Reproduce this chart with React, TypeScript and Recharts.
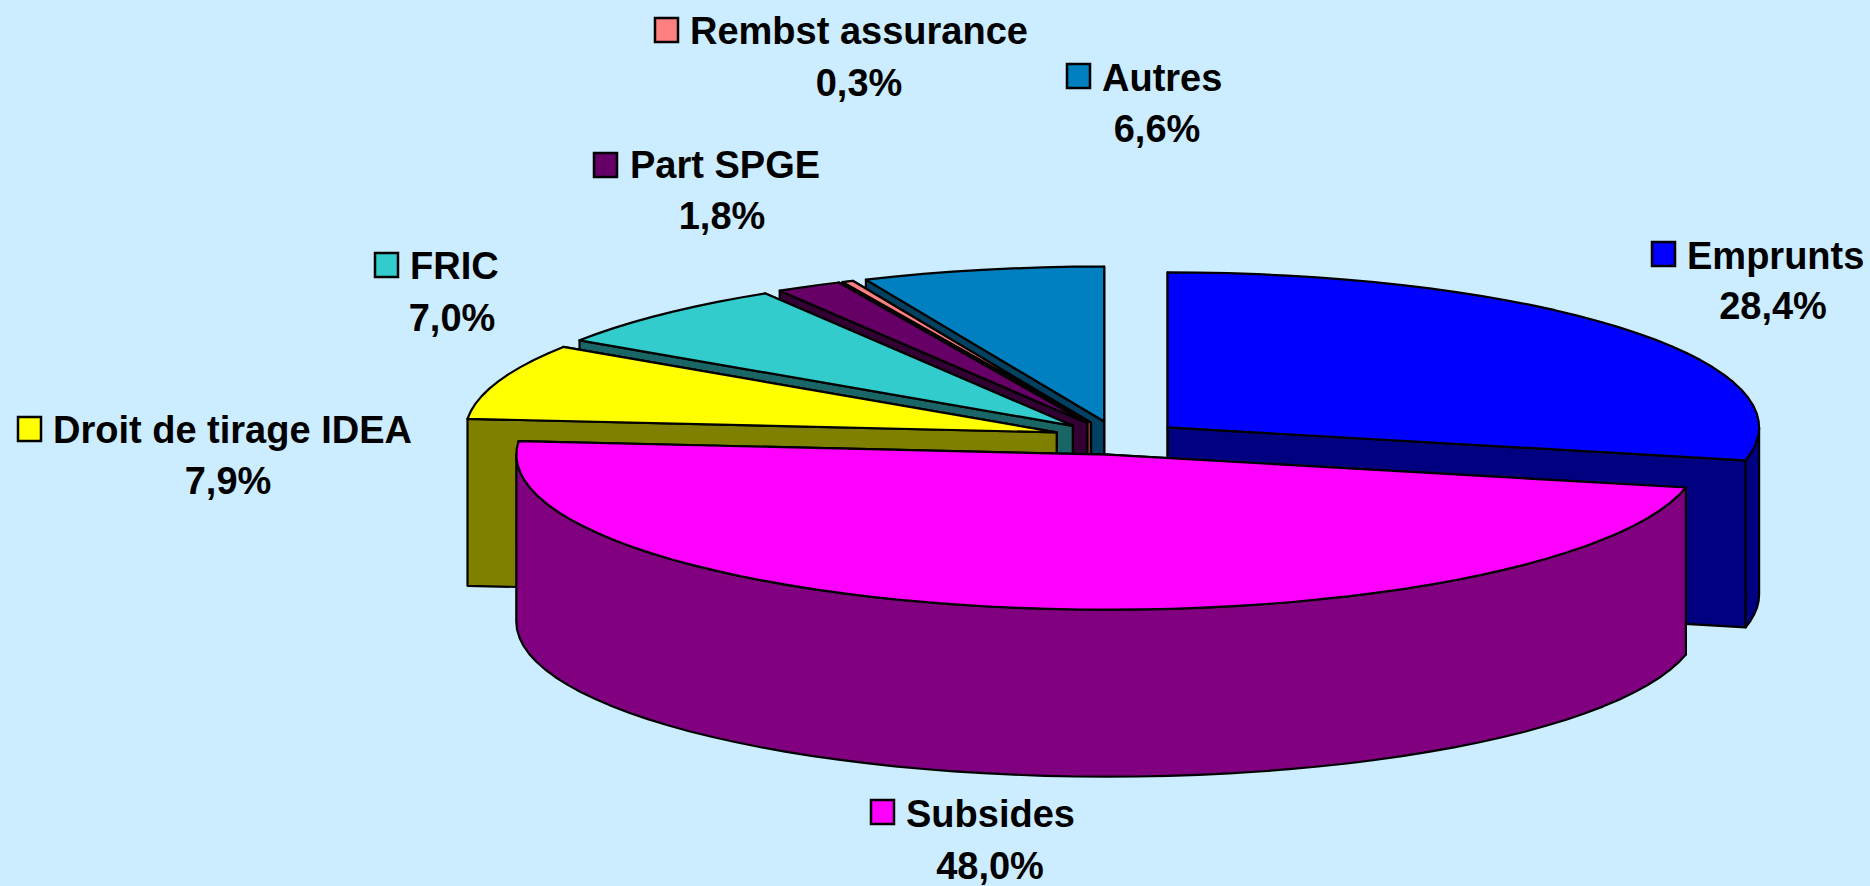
import React from 'react'
import { PieChart, Pie } from 'recharts'

const names = ['Emprunts', 'Autres', 'Rembst assurance', 'Part SPGE', 'FRIC', 'Droit de tirage IDEA', 'Subsides']
const shares = [28.4, 6.6, 0.3, 1.8, 7.0, 7.9, 48.0]
const topColors = ['#0000FF', '#0080C0', '#FF8080', '#660066', '#33CCCC', '#FFFF00', '#FF00FF']
const wallColors = ['#000080', '#004060', '#804040', '#330033', '#1A6666', '#808000', '#800080']

const chartData = names.map((name, i) => ({ name, value: shares[i], fill: topColors[i], wall: wallColors[i] }))

const WIDTH = 1870
const HEIGHT = 886
const CX = 1117.5
const CY = 438
const RX = 591.5
const RY = 155
const DEPTH = 167
const EXPLODE = 64.4
const SQUASH = RY / RX
const FONT = '"Liberation Sans", Arial, sans-serif'
const FONT_SIZE = 38

// swatch x/y, name x + baseline, percent centre x + baseline
const labelLayout: Record<string, { sx: number; sy: number; tx: number; ty: number; px: number; py: number }> = {
    Emprunts: { sx: 1652, sy: 242, tx: 1687, ty: 269, px: 1773, py: 319 },
    Autres: { sx: 1067, sy: 64, tx: 1102, ty: 91, px: 1157, py: 142 },
    'Rembst assurance': { sx: 655, sy: 18, tx: 690, ty: 44, px: 859, py: 96 },
    'Part SPGE': { sx: 594, sy: 153, tx: 630, ty: 178, px: 722, py: 229 },
    FRIC: { sx: 375, sy: 253, tx: 410, ty: 279, px: 452, py: 331 },
    'Droit de tirage IDEA': { sx: 18, sy: 417, tx: 53, ty: 443, px: 228, py: 494 },
    Subsides: { sx: 871, sy: 800, tx: 906, ty: 827, px: 990, py: 879 }
}

const rad = (deg: number) => (deg * Math.PI) / 180

// rim point of the flattened pie for a recharts angle (90 = north, counter-clockwise)
const rimPoint = (ox: number, oy: number, deg: number) => ({
    x: ox + RX * Math.cos(rad(deg)),
    y: oy - RY * Math.sin(rad(deg))
})

const toPath = (pts: { x: number; y: number }[]) =>
    'M' + pts.map(p => `${p.x.toFixed(1)},${p.y.toFixed(1)}`).join(' L') + ' Z'

// coarse steps on purpose, the original rim is visibly faceted
const arcPoints = (ox: number, oy: number, from: number, to: number) => {
    const steps = Math.max(2, Math.ceil(Math.abs(to - from) / 3))
    const pts = []
    for (let i = 0; i <= steps; i++) pts.push(rimPoint(ox, oy, from + ((to - from) * i) / steps))
    return pts
}

const Slice3D = (props: any) => {
    const { startAngle, endAngle, midAngle, fill, wall, payload } = props
    const wallFill = wall ?? payload?.wall
    const mid = midAngle ?? (startAngle + endAngle) / 2
    const ox = CX + EXPLODE * Math.cos(rad(mid))
    const oy = CY - EXPLODE * SQUASH * Math.sin(rad(mid))
    const apex = { x: ox, y: oy }
    const down = (p: { x: number; y: number }) => ({ x: p.x, y: p.y + DEPTH })

    const cutFace = (deg: number) => {
        const rim = rimPoint(ox, oy, deg)
        return toPath([apex, rim, down(rim), down(apex)])
    }

    // only the part of the rim that faces the viewer gets a wall
    const rimWalls: string[] = []
    for (const [lo, hi] of [[-180, 0], [180, 360]]) {
        const from = Math.max(startAngle, lo)
        const to = Math.min(endAngle, hi)
        if (to > from) {
            const top = arcPoints(ox, oy, from, to)
            rimWalls.push(toPath([...top, ...top.slice().reverse().map(down)]))
        }
    }

    const line = { stroke: '#000', strokeWidth: 2.2, strokeLinejoin: 'round' as const }
    return (
        <g>
            <path d={cutFace(startAngle)} fill={wallFill} {...line} />
            <path d={cutFace(endAngle)} fill={wallFill} {...line} />
            {rimWalls.map((d, i) => (
                <path key={i} d={d} fill={wallFill} {...line} />
            ))}
            <path d={toPath([apex, ...arcPoints(ox, oy, startAngle, endAngle)])} fill={fill} {...line} />
        </g>
    )
}

const SliceLabel = (props: any) => {
    const row = chartData[props.index]
    const pos = labelLayout[row.name]
    const text = { fontFamily: FONT, fontSize: FONT_SIZE, fontWeight: 700, fill: '#000' }
    return (
        <g>
            <rect x={pos.sx} y={pos.sy} width={23} height={24} fill={row.fill} stroke="#000" strokeWidth={2.5} />
            <text x={pos.tx} y={pos.ty} {...text}>
                {row.name}
            </text>
            <text x={pos.px} y={pos.py} textAnchor="middle" {...text}>
                {`${row.value.toFixed(1).replace('.', ',')}%`}
            </text>
        </g>
    )
}

export default function App() {
    return (
        <div style={{ position: 'fixed', left: 0, top: 0, width: WIDTH, height: HEIGHT, background: '#CCECFF', overflow: 'hidden' }}>
            <PieChart width={WIDTH} height={HEIGHT} margin={{ top: 0, right: 0, bottom: 0, left: 0 }}>
                <Pie
                    data={chartData}
                    dataKey="value"
                    nameKey="name"
                    cx={CX}
                    cy={CY}
                    innerRadius={0}
                    outerRadius={RX}
                    startAngle={-12.24}
                    endAngle={347.76}
                    paddingAngle={0}
                    stroke="none"
                    shape={Slice3D}
                    label={SliceLabel}
                    labelLine={false}
                    isAnimationActive={false}
                />
            </PieChart>
        </div>
    )
}
